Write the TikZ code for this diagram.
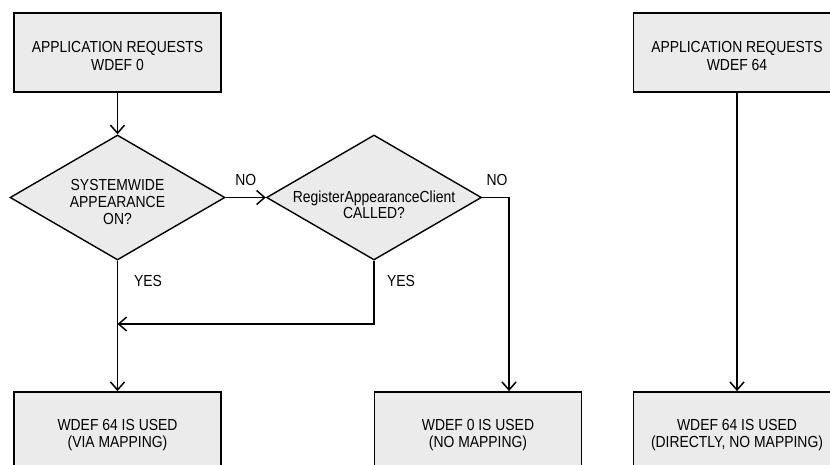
\documentclass[tikz,border=0pt]{standalone}
\usepackage{fontspec}
\setmainfont{Liberation Sans}[FakeStretch=0.87]
\usepackage{tikz}
\usetikzlibrary{arrows.meta,positioning,calc,shapes.geometric}

\tikzset{
  flowbox/.style={draw, line width=1.8bp, fill=boxgray, minimum width=207bp, minimum height=79bp, inner sep=0pt, align=center},
  decision/.style={draw, line width=1.4bp, fill=boxgray, diamond, minimum width=215bp, minimum height=125bp, inner sep=0pt},
  flowtext/.style={align=center, inner sep=0pt},
  flow/.style={line width=1.5bp}
}
\definecolor{boxgray}{HTML}{EBEBEB}

\begin{document}
\begin{tikzpicture}[x=1bp,y=-1bp,>={Straight Barb[length=8bp,width=14bp,line width=1.5bp]},
    font=\fontsize{16bp}{17.5bp}\selectfont]
      \path[use as bounding box, clip] (0,0) rectangle (830,465);

      % requests
      \node[flowbox] (req0) at (117.5,52.5) {};
      \node[flowtext] (req0txt) at (117.5,56) {APPLICATION REQUESTS\\WDEF 0};
      \node[flowbox] (req64) at (737,52.5) {};
      \node[flowtext] (req64txt) at (737,56) {APPLICATION REQUESTS\\WDEF 64};

      % decisions
      \node[decision] (sys) at (117.5,197.5) {};
      \node[flowtext, font=\fontsize{16bp}{17bp}\selectfont] (systxt) at (117.5,202) {SYSTEMWIDE\\APPEARANCE\\ON?};
      \node[decision] (reg) at (374,197.5) {};
      \node[flowtext, font=\fontsize{16bp}{13.5bp}\selectfont] (regtxt) at (374,205) {RegisterAppearanceClient\\CALLED?};

      % results
      \node[flowbox] (used64map) at (117.5,431.5) {};
      \node[flowtext] (used64maptxt) at (117.5,435) {WDEF 64 IS USED\\(VIA MAPPING)};
      \node[flowbox] (used0) at (478,431.5) {};
      \node[flowtext] (used0txt) at (478,435) {WDEF 0 IS USED\\(NO MAPPING)};
      \node[flowbox] (used64dir) at (737,431.5) {};
      \node[flowtext] (used64dirtxt) at (737,435) {WDEF 64 IS USED\\(DIRECTLY, NO MAPPING)};

      \coordinate (nocorner) at (509,197.5);
      \coordinate (merge) at (117.5,324);

      \draw[flow, ->] (req0) -- (sys);
      \draw[flow, ->] (sys) -- (reg) node[midway, above=8bp] (no1) {NO};
      \draw[flow, ->] (reg.east) -- (nocorner) -- (nocorner |- used0.north);
      \node (no2) at (497,180) {NO};
      \draw[flow, ->] (sys) -- (used64map);
      \draw[flow, ->] (reg.south) |- (merge);
      \node (yes1) at (148,281) {YES};
      \node (yes2) at (401,281) {YES};
      \draw[flow, ->] (req64) -- (used64dir);
\end{tikzpicture}
\end{document}
